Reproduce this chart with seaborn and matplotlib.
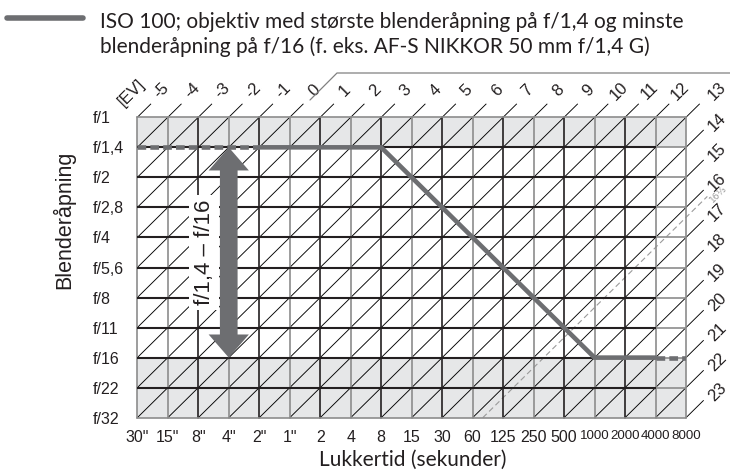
import matplotlib
matplotlib.use("Agg")
import matplotlib.pyplot as plt
from matplotlib.lines import Line2D
from matplotlib import font_manager
import seaborn as sns
import pandas as pd

# Shutter speeds (columns) and apertures (rows)
shutter_labels = ['30"', '15"', '8"', '4"', '2"', '1"', '2', '4', '8', '15', '30',
                  '60', '125', '250', '500', '1000', '2000', '4000', '8000']
aperture_labels = ['f/1', 'f/1,4', 'f/2', 'f/2,8', 'f/4', 'f/5,6', 'f/8',
                   'f/11', 'f/16', 'f/22', 'f/32']

# EV values along the top edge and down the right edge
ev_top = [-5, -4, -3, -2, -1, 0, 1, 2, 3, 4, 5, 6, 7, 8, 9, 10, 11, 12, 13]
ev_right = [14, 15, 16, 17, 18, 19, 20, 21, 22, 23]

# Lens aperture range
lens_max_aperture = 'f/1,4'
lens_min_aperture = 'f/16'

# Exposure program: breakpoints (shutter, aperture)
program_shutter = ['30"', '2"', '8', '1000', '4000', '8000']
program_aperture = ['f/1,4', 'f/1,4', 'f/1,4', 'f/16', 'f/16', 'f/16']

# Flash / metering limit line
ev_limit = 16 + 1 / 3
ev_limit_label = '16⅓'

title_lines = ['ISO 100; objektiv med største blenderåpning på f/1,4 og minste',
               'blenderåpning på f/16 (f. eks. AF-S NIKKOR 50 mm f/1,4 G)']

sns.set_theme(style="white")
plt.rcParams['font.family'] = ['Liberation Sans', 'DejaVu Sans']


def has_font(name):
    try:
        font_manager.findfont(name, fallback_to_default=False)
        return True
    except Exception:
        return False


narrow_ok = has_font('Liberation Sans Narrow')

W, H = 730, 472
fig = plt.figure(figsize=(W / 100, H / 100), dpi=100)
gx0, gx1, gy0, gy1 = 137.3, 686.0, 117.3, 417.7
ax = fig.add_axes([gx0 / W, 1 - gy1 / H, (gx1 - gx0) / W, (gy1 - gy0) / H])
ncol = len(shutter_labels) - 1
nrow = len(aperture_labels) - 1
ax.set_xlim(0, ncol)
ax.set_ylim(nrow, 0)
for s in ax.spines.values():
    s.set_visible(False)
ax.set_facecolor('white')
ax.grid(False)

TXT = '#231f20'
GREY_FILL = '#e6e7e8'
GRID_GREY = '#8c8c8c'
PROG = '#6d6e71'

xi = {s: i for i, s in enumerate(shutter_labels)}
yi = {a: j for j, a in enumerate(aperture_labels)}

# shaded aperture zones outside the lens range
ax.axhspan(0, yi[lens_max_aperture], color=GREY_FILL, lw=0, zorder=0)
ax.axhspan(yi[lens_min_aperture], nrow, color=GREY_FILL, lw=0, zorder=0)

# EV diagonals
ext_top, ext_right = 0.45, 0.58
for ev in ev_top + ev_right:
    k = ev + 5
    j0 = min(nrow, k)
    i0 = k - j0
    i1 = min(ncol, k)
    j1 = k - i1
    ext = ext_top if j1 == 0 else ext_right
    ax.plot([i0, i1 + ext], [j0, j1 - ext], color='black', lw=0.65,
            clip_on=False, zorder=1, solid_capstyle='butt')
    on_top = j1 == 0 and i1 < ncol
    ax.text(i1 + (0.8 if on_top else 1.02), j1 - (0.88 if on_top else 0.85),
            str(ev), rotation=45, ha='center', va='center',
            fontsize=12, color=TXT, clip_on=False)
ax.text(-0.2, -0.82, '[EV]', rotation=45, ha='center', va='center',
        fontsize=12, color=TXT)

# limit line (dashed)
k = ev_limit + 5
li0, lj0 = k - nrow, nrow
li1, lj1 = ncol, k - ncol
ax.plot([li0, li1 + 0.7], [lj0, lj1 - 0.7], color='#9a9a9a', lw=0.8,
        ls=(0, (5, 3)), clip_on=False, zorder=1)
ax.text(li1 + 1.05, lj1 - 0.78, ev_limit_label, rotation=45, ha='center',
        va='center', fontsize=6.5, color='#9a9a9a', family='DejaVu Sans')

# vertical grid lines
for i in range(ncol + 1):
    black = (i % 2 == 0) and 0 < i < ncol
    ax.plot([i, i], [0, nrow], color='#231f20' if black else GRID_GREY,
            lw=1.2, zorder=2, clip_on=False)
# horizontal grid lines
for j in range(nrow + 1):
    if 0 < j < nrow:
        ax.plot([0, ncol - 1], [j, j], color='#231f20', lw=1.5, zorder=2,
                clip_on=False, solid_capstyle='butt')
        ax.plot([ncol - 1, ncol], [j, j], color=GRID_GREY, lw=1.2, zorder=2,
                clip_on=False, solid_capstyle='butt')
    else:
        ax.plot([0, ncol], [j, j], color=GRID_GREY, lw=1.2, zorder=2,
                clip_on=False)

# exposure program line
prog = pd.DataFrame({'x': [xi[s] for s in program_shutter],
                     'y': [yi[a] for a in program_aperture]})
solid = prog.iloc[1:-1]
sns.lineplot(data=solid, x='x', y='y', sort=False, color=PROG, lw=3.3,
             ax=ax, zorder=5, estimator=None)
for seg in (prog.iloc[0:2], prog.iloc[-2:]):
    ax.plot(seg['x'], seg['y'], color=PROG, lw=3.3, ls=(0, (1.9, 0.9)),
            zorder=5, solid_capstyle='butt', dash_capstyle='butt')
ax.set_xlabel('')
ax.set_ylabel('')
ax.set_xlim(0, ncol)
ax.set_ylim(nrow, 0)

# aperture range arrow
ax_x = xi['4"']
ya, yb = yi[lens_max_aperture], yi[lens_min_aperture]
hw_shaft, hw_head, hl = 0.29, 0.66, 0.77
pts_x = [ax_x, ax_x + hw_head, ax_x + hw_shaft, ax_x + hw_shaft, ax_x + hw_head,
         ax_x, ax_x - hw_head, ax_x - hw_shaft, ax_x - hw_shaft, ax_x - hw_head]
pts_y = [ya, ya + hl, ya + hl, yb - hl, yb - hl, yb, yb - hl, yb - hl, ya + hl, ya + hl]
ax.fill(pts_x, pts_y, color=PROG, lw=0, zorder=6)
ax.text(ax_x - 0.8, (ya + yb) / 2, f'{lens_max_aperture} – {lens_min_aperture}',
        rotation=90, ha='center', va='center', fontsize=16, color=TXT, zorder=7,
        bbox=dict(boxstyle='square,pad=0.2', fc='white', ec='none'))

# tick labels
ax.set_xticks(range(ncol + 1))
ax.set_xticklabels(shutter_labels)
for t in ax.get_xticklabels():
    t.set_color(TXT)
    if len(t.get_text()) >= 4:
        if narrow_ok:
            t.set_family(['Liberation Sans Narrow', 'Liberation Sans'])
            t.set_fontsize(10.5)
        else:
            t.set_fontsize(9.6)
    else:
        t.set_fontsize(11.5)
ax.set_yticks(range(nrow + 1))
ax.set_yticklabels(aperture_labels, ha='left')
for t in ax.get_yticklabels():
    t.set_fontsize(11.5)
    t.set_color(TXT)
ax.tick_params(axis='x', length=0, pad=9)
ax.tick_params(axis='y', length=0, pad=32)

# axis titles
fig.text(64 / W, 1 - 220 / H, 'Blenderåpning', rotation=90, ha='center',
         va='center', fontsize=15.5, color=TXT)
fig.text(413 / W, 1 - 460 / H, 'Lukkertid (sekunder)', ha='center', va='center',
         fontsize=15, color=TXT, family=['Lato', 'DejaVu Sans'])

# header with legend swatch
fig.add_artist(Line2D([7 / W, 83 / W], [1 - 18 / H, 1 - 18 / H], color=PROG, lw=4))
for line, base in zip(title_lines, (28, 53)):
    fig.text(100 / W, 1 - base / H, line, ha='left', va='baseline',
             fontsize=15, color=TXT, family=['Lato', 'DejaVu Sans'])

# frame rule along the top
fig.add_artist(Line2D([310 / W, 337 / W, 1.0], [1 - 100 / H, 1 - 73 / H, 1 - 73 / H],
                      color='#808080', lw=0.9))

fig.savefig('out.png', dpi=100)
